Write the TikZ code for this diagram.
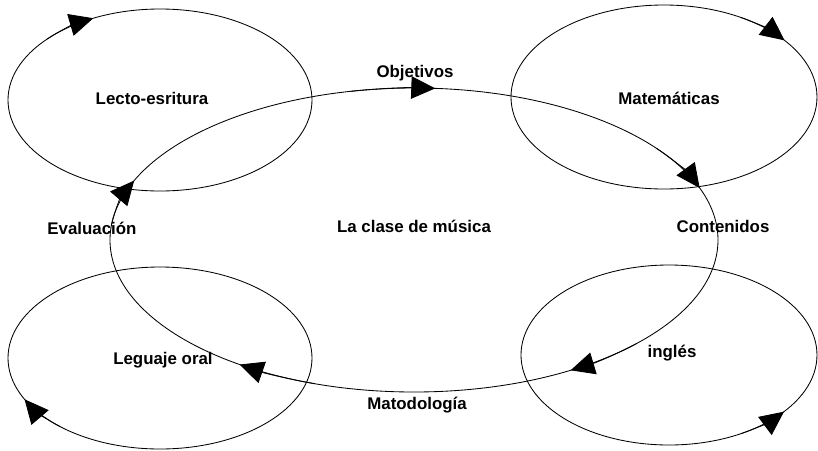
\documentclass[tikz,border=0pt]{standalone}
\usepackage{fontspec}
\setmainfont{Liberation Sans}
\usetikzlibrary{arrows.meta}
\begin{document}
\begin{tikzpicture}
    [x=0.025cm,y=-0.025cm,
     label/.style={font=\fontsize{12}{14}\selectfont\bfseries},
     ring/.style={line width=0.6pt},
     tip/.style={line width=0.6pt,-{Triangle[length=17pt,width=16pt]}}]
    \useasboundingbox (0,0) rectangle (818,450);
    
    \node[label] (lecto) at (152,98) {Lecto-esritura};
    \node[label] (mate) at (669,98) {Matemáticas};
    \node[label] (oral) at (163,360) {Leguaje oral};
    \node[label] (ingles) at (672,353) {inglés};
    \node[label] (clase) at (414,226) {La clase de música};
    \node[label] (obj) at (415,73) {Objetivos};
    \node[label] (cont) at (723,226) {Contenidos};
    \node[label] (metod) at (417,405) {Matodología};
    \node[label] (eval) at (92,228) {Evaluación};
    
    % outer rings
    \draw[ring] (160,100) ellipse [x radius=152,y radius=91];
    \draw[ring] (664,97) ellipse [x radius=153,y radius=92];
    \draw[ring] (160,358) ellipse [x radius=152,y radius=91];
    \draw[ring] (669,355) ellipse [x radius=148,y radius=90];
    \draw[tip] (160,100) ++(222:152 and 91) arc [start angle=222,end angle=244,x radius=152,y radius=91];
    \draw[tip] (664,97) ++(300:153 and 92) arc [start angle=300,end angle=322,x radius=153,y radius=92];
    \draw[tip] (160,358) ++(131:152 and 91) arc [start angle=131,end angle=153,x radius=152,y radius=91];
    \draw[tip] (669,355) ++(61:148 and 90) arc [start angle=61,end angle=39,x radius=148,y radius=90];
    
    % central loop
    \draw[ring] (414,240) ellipse [x radius=304,y radius=152];
    \draw[tip] (414,240) ++(258:304 and 152) arc [start angle=258,end angle=274,x radius=304,y radius=152];
    \draw[tip] (414,240) ++(323:304 and 152) arc [start angle=323,end angle=340,x radius=304,y radius=152];
    \draw[tip] (414,240) ++(43:304 and 152) arc [start angle=43,end angle=59,x radius=304,y radius=152];
    \draw[tip] (414,240) ++(109:304 and 152) arc [start angle=109,end angle=125,x radius=304,y radius=152];
    \draw[tip] (414,240) ++(186:304 and 152) arc [start angle=186,end angle=203,x radius=304,y radius=152];
  \end{tikzpicture}
\end{document}
